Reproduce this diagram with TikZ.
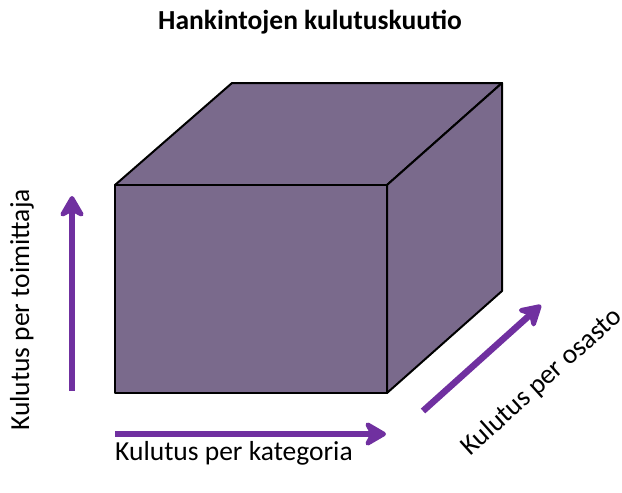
\documentclass[tikz,border=0pt]{standalone}
\usepackage{fontspec}
\setmainfont{Carlito}
\usetikzlibrary{arrows.meta}
\definecolor{cubefill}{HTML}{7A6A8C}
\definecolor{axispurple}{HTML}{7030A0}
\tikzset{
  face/.style={draw=black, fill=cubefill, line width=2pt, line join=round},
  axisarrow/.style={draw=axispurple, line width=6.5pt,
                    -{Stealth[length=26pt, width=30pt, inset=8pt, round]}},
  axislabel/.style={font=\fontsize{27.5}{30}\selectfont, inner sep=0pt},
  titlelabel/.style={font=\fontsize{27.5}{30}\selectfont\bfseries, inner sep=0pt},
}
\begin{document}
\begin{tikzpicture}[x=1pt, y=-1pt]
  \useasboundingbox (0,0) rectangle (622,493);

  % title
  \node[titlelabel] (title) at (310,22) {Hankintojen kulutuskuutio};

  % cube
  \coordinate (fa) at (115,185);
  \coordinate (fb) at (387,185);
  \coordinate (fc) at (387,393);
  \coordinate (fd) at (115,393);
  \coordinate (ba) at (232,83);
  \coordinate (bb) at (502,83);
  \coordinate (bc) at (502,291);
  \draw[face] (fa) -- (ba) -- (bb) -- (fb) -- cycle;
  \draw[face] (fb) -- (bb) -- (bc) -- (fc) -- cycle;
  \draw[face] (fa) -- (fb) -- (fc) -- (fd) -- cycle;

  % axes
  \coordinate (upfrom) at (72,391);
  \coordinate (upto) at (72,196);
  \coordinate (rightfrom) at (115,434);
  \coordinate (rightto) at (386,434);
  \coordinate (diagfrom) at (423,411);
  \coordinate (diagto) at (541,305);
  \draw[axisarrow] (upfrom) -- (upto);
  \draw[axisarrow] (rightfrom) -- (rightto);
  \draw[axisarrow] (diagfrom) -- (diagto);

  \node[axislabel, anchor=west] (cat) at (115,453) {Kulutus per kategoria};
  \node[axislabel, rotate=90] (supp) at (22,310) {Kulutus per toimittaja};
  \node[axislabel, rotate=42] (dept) at (542,382) {Kulutus per osasto};
\end{tikzpicture}
\end{document}
